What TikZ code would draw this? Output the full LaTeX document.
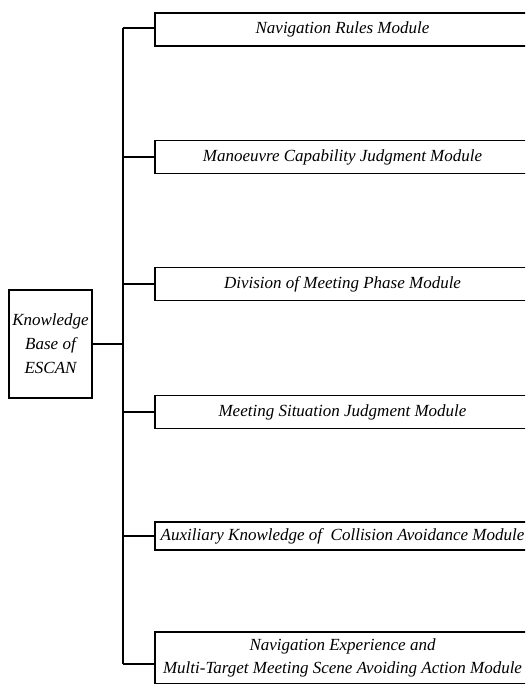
\documentclass[tikz,border=0pt]{standalone}
\usepackage{fontspec}
\setmainfont{Liberation Serif}
\begin{document}
\begin{tikzpicture}[x=1pt,y=-1pt,
  boxline/.style={line width=1.6pt},
  modbox/.style={draw, boxline, rectangle, inner sep=0pt, minimum width=375pt,
    align=center, font=\fontsize{17}{23}\selectfont\itshape},
  rootbox/.style={draw, boxline, rectangle, inner sep=0pt, minimum width=83pt,
    minimum height=108pt, align=center, font=\fontsize{17}{24}\selectfont\itshape},
  link/.style={line width=1.8pt}]
  \useasboundingbox (0,0) rectangle (525,684);
  \clip (0,0) rectangle (525,684);

  % root of the tree
  \node[rootbox] (root) at (50.5,344) {Knowledge\\Base of\\ESCAN};

  % module boxes, running off the right edge
  \node[modbox, minimum height=33pt] (m1) at (342.5,29.5) {Navigation Rules Module};
  \node[modbox, minimum height=33pt] (m2) at (342.5,157) {Manoeuvre Capability Judgment Module};
  \node[modbox, minimum height=33pt] (m3) at (342.5,284) {Division of Meeting Phase Module};
  \node[modbox, minimum height=33pt] (m4) at (342.5,412) {Meeting Situation Judgment Module};
  \node[modbox, minimum height=28pt] (m5) at (342.5,536) {Auxiliary Knowledge of\ \ Collision Avoidance Module};
  \node[modbox, minimum height=52pt] (m6) at (342.5,658) {Navigation Experience and\\Multi-Target Meeting Scene Avoiding Action Module};

  % trunk and branches
  \coordinate (tt) at (123,28);
  \coordinate (tb) at (123,664);
  \draw[link] (tt) -- (tb);
  \draw[link] (root.east) -- (root.east -| tt);
  \draw[link] (tt) -- (tt -| m1.west);
  \draw[link] (m2.west -| tt) -- (m2.west);
  \draw[link] (m3.west -| tt) -- (m3.west);
  \draw[link] (m4.west -| tt) -- (m4.west);
  \draw[link] (m5.west -| tt) -- (m5.west);
  \draw[link] (tb) -- (tb -| m6.west);
\end{tikzpicture}
\end{document}
